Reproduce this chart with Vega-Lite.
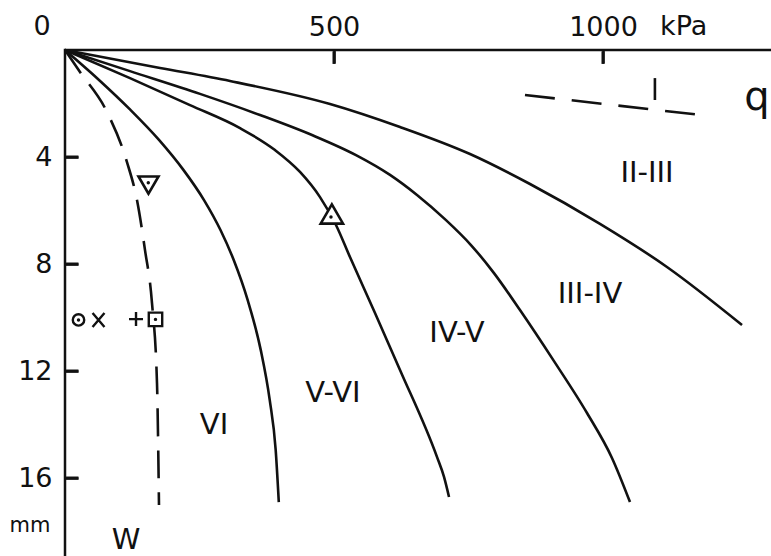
{
  "$schema": "https://vega.github.io/schema/vega-lite/v6.json",
  "width": 708,
  "height": 508,
  "autosize": {"type": "none"},
  "padding": {"left": 65, "top": 50, "right": 0, "bottom": 0},
  "background": "white",
  "config": {"view": {"stroke": "#111", "strokeWidth": 2.5}, "font": "DejaVu Sans"},
  "datasets": {
    "curves": [
      {"c": "c1", "i": 0, "p": 0, "d": 0},
      {"c": "c1", "i": 1, "p": 63.2, "d": 1.12},
      {"c": "c1", "i": 2, "p": 121.7, "d": 2.24},
      {"c": "c1", "i": 3, "p": 174.7, "d": 3.36},
      {"c": "c1", "i": 4, "p": 220.4, "d": 4.49},
      {"c": "c1", "i": 5, "p": 258.4, "d": 5.61},
      {"c": "c1", "i": 6, "p": 289.0, "d": 6.73},
      {"c": "c1", "i": 7, "p": 313.6, "d": 7.85},
      {"c": "c1", "i": 8, "p": 339.6, "d": 9.35},
      {"c": "c1", "i": 9, "p": 363.8, "d": 11.21},
      {"c": "c1", "i": 10, "p": 380.5, "d": 13.08},
      {"c": "c1", "i": 11, "p": 391.6, "d": 14.95},
      {"c": "c1", "i": 12, "p": 397.4, "d": 16.9},
      {"c": "c2", "i": 0, "p": 0, "d": 0},
      {"c": "c2", "i": 1, "p": 120.8, "d": 1.05},
      {"c": "c2", "i": 2, "p": 232.3, "d": 2.06},
      {"c": "c2", "i": 3, "p": 325.3, "d": 2.92},
      {"c": "c2", "i": 4, "p": 390.3, "d": 3.74},
      {"c": "c2", "i": 5, "p": 436.8, "d": 4.56},
      {"c": "c2", "i": 6, "p": 474.0, "d": 5.5},
      {"c": "c2", "i": 7, "p": 503.7, "d": 6.54},
      {"c": "c2", "i": 8, "p": 529.7, "d": 7.74},
      {"c": "c2", "i": 9, "p": 576.2, "d": 9.83},
      {"c": "c2", "i": 10, "p": 622.7, "d": 11.96},
      {"c": "c2", "i": 11, "p": 691.4, "d": 15.21},
      {"c": "c2", "i": 12, "p": 704.5, "d": 15.96},
      {"c": "c2", "i": 13, "p": 713.8, "d": 16.71},
      {"c": "c3", "i": 0, "p": 0, "d": 0},
      {"c": "c3", "i": 1, "p": 120.8, "d": 0.79},
      {"c": "c3", "i": 2, "p": 250.9, "d": 1.64},
      {"c": "c3", "i": 3, "p": 362.5, "d": 2.43},
      {"c": "c3", "i": 4, "p": 459.1, "d": 3.18},
      {"c": "c3", "i": 5, "p": 540.9, "d": 3.93},
      {"c": "c3", "i": 6, "p": 604.1, "d": 4.67},
      {"c": "c3", "i": 7, "p": 654.3, "d": 5.42},
      {"c": "c3", "i": 8, "p": 708.2, "d": 6.36},
      {"c": "c3", "i": 9, "p": 754.6, "d": 7.29},
      {"c": "c3", "i": 10, "p": 797.4, "d": 8.34},
      {"c": "c3", "i": 11, "p": 845.7, "d": 9.72},
      {"c": "c3", "i": 12, "p": 908.9, "d": 11.63},
      {"c": "c3", "i": 13, "p": 970.3, "d": 13.57},
      {"c": "c3", "i": 14, "p": 1016.7, "d": 15.25},
      {"c": "c3", "i": 15, "p": 1050.2, "d": 16.9},
      {"c": "c4", "i": 0, "p": 0, "d": 0},
      {"c": "c4", "i": 1, "p": 176.6, "d": 0.67},
      {"c": "c4", "i": 2, "p": 306.7, "d": 1.16},
      {"c": "c4", "i": 3, "p": 492.6, "d": 2.02},
      {"c": "c4", "i": 4, "p": 622.7, "d": 2.88},
      {"c": "c4", "i": 5, "p": 752.8, "d": 3.89},
      {"c": "c4", "i": 6, "p": 864.3, "d": 5.01},
      {"c": "c4", "i": 7, "p": 994.4, "d": 6.5},
      {"c": "c4", "i": 8, "p": 1118.9, "d": 8.11},
      {"c": "c4", "i": 9, "p": 1258.4, "d": 10.28}
    ],
    "w": [
      {"i": 0, "p": 0, "d": 0},
      {"i": 1, "p": 27.9, "d": 0.82},
      {"i": 2, "p": 78.1, "d": 2.32},
      {"i": 3, "p": 115.2, "d": 4.19},
      {"i": 4, "p": 133.8, "d": 5.61},
      {"i": 5, "p": 148.7, "d": 7.48},
      {"i": 6, "p": 161.7, "d": 9.46},
      {"i": 7, "p": 171.0, "d": 12.45},
      {"i": 8, "p": 174.7, "d": 17.01}
    ],
    "legend": [
      {"i": 0, "p": 855, "d": 1.68},
      {"i": 1, "p": 1182, "d": 2.43}
    ],
    "qtick": [
      {"p": 1096.5, "d": 1.05, "d2": 1.87}
    ],
    "vticks": [
      {"p": 500, "d": 0.05, "d2": 0.52},
      {"p": 1000, "d": 0.05, "d2": 0.52}
    ],
    "hticks": [
      {"p": 2, "p2": 25, "d": 4},
      {"p": 2, "p2": 25, "d": 8},
      {"p": 2, "p2": 25, "d": 12},
      {"p": 2, "p2": 25, "d": 16}
    ],
    "markers": [
      {"kind": "tridown", "p": 155.2, "d": 5.05},
      {"kind": "triup", "p": 496.0, "d": 6.13},
      {"kind": "square", "p": 168.2, "d": 10.07},
      {"kind": "plus", "p": 132.0, "d": 10.06},
      {"kind": "cross", "p": 62.3, "d": 10.09},
      {"kind": "circle", "p": 25.1, "d": 10.09}
    ],
    "dots": [
      {"p": 154.8, "d": 4.96},
      {"p": 494.4, "d": 6.24},
      {"p": 168.2, "d": 10.07},
      {"p": 25.1, "d": 10.09}
    ],
    "labels": [
      {"role": "region", "text": "II-III", "p": 1081.8, "d": 4.6},
      {"role": "region", "text": "III-IV", "p": 975.8, "d": 9.12},
      {"role": "region", "text": "IV-V", "p": 728.6, "d": 10.58},
      {"role": "region", "text": "V-VI", "p": 498.1, "d": 12.82},
      {"role": "region", "text": "VI", "p": 277.0, "d": 14.02},
      {"role": "region", "text": "W", "p": 113.4, "d": 18.32},
      {"role": "q", "text": "q", "p": 1286, "d": 2.24},
      {"role": "zero", "text": "0", "p": -42.8, "d": -0.56},
      {"role": "unit", "text": "kPa", "p": 1106, "d": -0.56},
      {"role": "mm", "text": "mm", "p": -65.1, "d": 18.02}
    ]
  },
  "encoding": {
    "x": {
      "field": "p", "type": "quantitative",
      "scale": {"domain": [0, 1316], "nice": false, "zero": false},
      "axis": {
        "orient": "top", "values": [500, 1000], "format": "d", "title": null, "grid": false,
        "domain": false, "offset": -13,
        "ticks": true, "tickSize": 13, "tickWidth": 2.5, "tickColor": "#111",
        "labelFont": "DejaVu Sans", "labelFontSize": 27, "labelColor": "#111",
        "labelBaseline": "alphabetic", "labelPadding": 15, "labelFlush": false
      }
    },
    "y": {
      "field": "d", "type": "quantitative",
      "scale": {"domain": [0, 18.99], "nice": false, "zero": false, "reverse": true},
      "axis": {
        "orient": "left", "values": [4, 8, 12, 16], "title": null, "grid": false,
        "domain": false, "offset": -13,
        "ticks": true, "tickSize": 13, "tickWidth": 2.5, "tickColor": "#111",
        "labelFont": "DejaVu Sans", "labelFontSize": 27, "labelColor": "#111",
        "labelPadding": 13, "labelFlush": false
      }
    }
  },
  "layer": [
    {
      "data": {"name": "curves"},
      "mark": {"type": "line", "color": "#111", "strokeWidth": 2.6, "interpolate": "monotone", "clip": false},
      "encoding": {"detail": {"field": "c"}, "order": {"field": "i", "type": "quantitative"}}
    },
    {
      "data": {"name": "w"},
      "mark": {"type": "line", "color": "#111", "strokeWidth": 2.6, "interpolate": "monotone", "strokeDash": [28, 14]},
      "encoding": {"order": {"field": "i", "type": "quantitative"}}
    },
    {
      "data": {"name": "legend"},
      "mark": {"type": "line", "color": "#111", "strokeWidth": 2.6, "strokeDash": [30, 17]},
      "encoding": {"order": {"field": "i", "type": "quantitative"}}
    },
    {
      "data": {"name": "qtick"},
      "mark": {"type": "rule", "color": "#111", "strokeWidth": 2.6},
      "encoding": {"y2": {"field": "d2"}}
    },
    {
      "data": {"name": "vticks"},
      "mark": {"type": "rule", "color": "#111", "strokeWidth": 3},
      "encoding": {"y2": {"field": "d2"}}
    },
    {
      "data": {"name": "hticks"},
      "mark": {"type": "rule", "color": "#111", "strokeWidth": 3},
      "encoding": {"x2": {"field": "p2"}}
    },
    {
      "data": {"name": "markers"},
      "transform": [{"filter": "datum.kind == 'tridown'"}],
      "mark": {"type": "point", "shape": "triangle-down", "size": 400, "filled": false, "stroke": "#111", "strokeWidth": 2.6, "opacity": 1}
    },
    {
      "data": {"name": "markers"},
      "transform": [{"filter": "datum.kind == 'triup'"}],
      "mark": {"type": "point", "shape": "triangle-up", "size": 500, "filled": true, "fill": "white", "stroke": "#111", "strokeWidth": 2.6, "opacity": 1}
    },
    {
      "data": {"name": "markers"},
      "transform": [{"filter": "datum.kind == 'square'"}],
      "mark": {"type": "point", "shape": "square", "size": 180, "filled": true, "fill": "white", "stroke": "#111", "strokeWidth": 2.4, "opacity": 1}
    },
    {
      "data": {"name": "markers"},
      "transform": [{"filter": "datum.kind == 'circle'"}],
      "mark": {"type": "point", "shape": "circle", "size": 130, "filled": false, "stroke": "#111", "strokeWidth": 2.4, "opacity": 1}
    },
    {
      "data": {"name": "markers"},
      "transform": [{"filter": "datum.kind == 'plus'"}],
      "mark": {"type": "point", "shape": "M-1,0L1,0M0,-1L0,1", "size": 196, "filled": false, "stroke": "#111", "strokeWidth": 2.4, "opacity": 1}
    },
    {
      "data": {"name": "markers"},
      "transform": [{"filter": "datum.kind == 'cross'"}],
      "mark": {"type": "point", "shape": "M-0.85,-1L0.85,1M-0.85,1L0.85,-1", "size": 196, "filled": false, "stroke": "#111", "strokeWidth": 2.4, "opacity": 1}
    },
    {
      "data": {"name": "dots"},
      "mark": {"type": "point", "shape": "circle", "size": 12, "filled": true, "color": "#111", "opacity": 1}
    },
    {
      "data": {"name": "labels"},
      "transform": [{"filter": "datum.role == 'region'"}],
      "mark": {"type": "text", "font": "DejaVu Sans", "fontSize": 29, "align": "center", "baseline": "middle", "color": "#111"},
      "encoding": {"text": {"field": "text"}}
    },
    {
      "data": {"name": "labels"},
      "transform": [{"filter": "datum.role == 'q'"}],
      "mark": {"type": "text", "font": "DejaVu Sans", "fontSize": 40, "align": "center", "baseline": "alphabetic", "color": "#111"},
      "encoding": {"text": {"field": "text"}}
    },
    {
      "data": {"name": "labels"},
      "transform": [{"filter": "datum.role == 'zero'"}],
      "mark": {"type": "text", "font": "DejaVu Sans", "fontSize": 27, "align": "center", "baseline": "alphabetic", "color": "#111"},
      "encoding": {"text": {"field": "text"}}
    },
    {
      "data": {"name": "labels"},
      "transform": [{"filter": "datum.role == 'unit'"}],
      "mark": {"type": "text", "font": "DejaVu Sans", "fontSize": 27, "align": "left", "baseline": "alphabetic", "color": "#111"},
      "encoding": {"text": {"field": "text"}}
    },
    {
      "data": {"name": "labels"},
      "transform": [{"filter": "datum.role == 'mm'"}],
      "mark": {"type": "text", "font": "DejaVu Sans", "fontSize": 21, "align": "center", "baseline": "alphabetic", "color": "#111"},
      "encoding": {"text": {"field": "text"}}
    }
  ]
}
